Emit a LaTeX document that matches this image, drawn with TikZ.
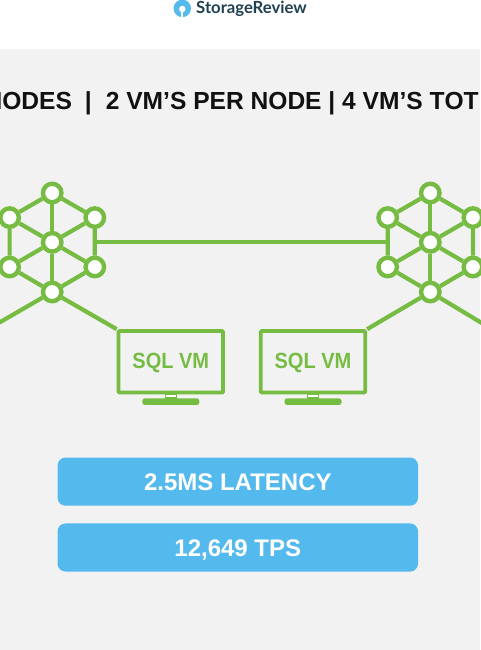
\documentclass[tikz,border=0pt]{standalone}
\usepackage{fontspec}
\setmainfont{Liberation Sans}
\newfontfamily\logofont{Lato}
\newfontfamily\vmfont[FakeStretch=0.91]{Liberation Sans}
\newfontfamily\titlefont[FakeStretch=0.995, Kerning=Off]{Liberation Sans}
\definecolor{bgPanel}{HTML}{F2F2F2}
\definecolor{accentGreen}{HTML}{76BC43}
\definecolor{accentBlue}{HTML}{54B9EC}
\definecolor{logoText}{HTML}{1F4152}
\definecolor{titleText}{HTML}{111111}
\usetikzlibrary{calc, positioning}
\tikzset{
  hubnode/.style={circle, draw=accentGreen, fill=white, line width=4.4pt, minimum size=18.5pt, inner sep=0pt},
  hubline/.style={draw=accentGreen, line width=4.2pt},
  vmbox/.style={draw=accentGreen, line width=3.8pt, rounded corners=1pt, minimum width=104.5pt, minimum height=61.5pt, inner sep=0pt,
                text height=15.7pt, text depth=2pt, text=accentGreen, font=\vmfont\fontsize{22}{22}\selectfont\bfseries},
  statbox/.style={fill=accentBlue, rounded corners=8pt, minimum width=360.5pt, minimum height=48.2pt, inner sep=0pt,
                  text height=17.2pt, text depth=0pt, text=white, font=\fontsize{24}{24}\selectfont\bfseries},
}
\begin{document}
\begin{tikzpicture}[x=1pt, y=-1pt]
        \useasboundingbox (0,0) rectangle (480,650);
        \fill[white] (0,0) rectangle (480,49);
        \fill[bgPanel] (0,49) rectangle (480,650);
        % logo
        \node[circle, fill=accentBlue, minimum size=17.5pt, inner sep=0pt] (logoMark) at (182.3,8.4) {};
        \node[circle, fill=white, minimum size=6.5pt, inner sep=0pt] (logoHole) at (182.3,9) {};
        \fill[white] (180.6,10) rectangle (183,17.5);
        \node[anchor=west, inner sep=0pt, text=logoText, font=\logofont\fontsize{16.7}{16.7}\selectfont\bfseries] (logoName) at (196,8.6) {StorageReview};
        % title
        \node[anchor=base west, inner sep=0pt, text=titleText, font=\titlefont\fontsize{24.7}{24.7}\selectfont\bfseries] (title) at (-15.6,109.3)
          {NODES\hspace{13pt}|\hspace{14pt}2 VM’S PER NODE | 4 VM’S TOT};
        % the two hubs
        \foreach \hub/\cx in {hubL/52.2, hubR/430.3} {
          \node[hubnode] (\hub top) at (\cx,193) {};
          \node[hubnode] (\hub ul) at (\cx-42.6,217.6) {};
          \node[hubnode] (\hub ur) at (\cx+42.6,217.6) {};
          \node[hubnode] (\hub mid) at (\cx,242.3) {};
          \node[hubnode] (\hub ll) at (\cx-42.6,267) {};
          \node[hubnode] (\hub lr) at (\cx+42.6,267) {};
          \node[hubnode] (\hub bot) at (\cx,292) {};
          \draw[hubline] (\hub top) -- (\hub ul) -- (\hub ll) -- (\hub bot) -- (\hub lr) -- (\hub ur) -- (\hub top);
          \draw[hubline] (\hub mid) -- (\hub top);
          \draw[hubline] (\hub mid) -- (\hub bot);
          \draw[hubline] (\hub mid) -- (\hub ul);
          \draw[hubline] (\hub mid) -- (\hub ur);
          \draw[hubline] (\hub mid) -- (\hub ll);
          \draw[hubline] (\hub mid) -- (\hub lr);
        }
        \draw[hubline] ($(hubLur)!0.5!(hubLlr)$) -- ($(hubRul)!0.5!(hubRll)$);
        % monitors
        \node[vmbox] (vmL) at (170.8,361.8) {SQL VM};
        \node[vmbox] (vmR) at (313,361.8) {SQL VM};
        \foreach \vm in {vmL, vmR} {
          \node[fill=accentGreen, rounded corners=2.5pt, minimum width=57pt, minimum height=6.6pt, inner sep=0pt, below=3.7pt of \vm.south] (\vm base) {};
          \draw[accentGreen, line width=1.6pt, fill=white] ($(\vm.south)+(-5.5,0)$) rectangle ($(\vm base.north)+(5.5,0)$);
        }
        \coordinate (edgeL) at (-10,328);
        \coordinate (edgeR) at (490,328);
        \draw[hubline] (hubLbot) -- (vmL.north west);
        \draw[hubline] (hubRbot) -- (vmR.north east);
        \draw[hubline] (hubLbot) -- (edgeL);
        \draw[hubline] (hubRbot) -- (edgeR);
        % results
        \node[statbox] (latency) at (237.8,481.6) {2.5MS LATENCY};
        \node[statbox] (tps) at (237.8,547.5) {12,649 TPS};
      \end{tikzpicture}
\end{document}
